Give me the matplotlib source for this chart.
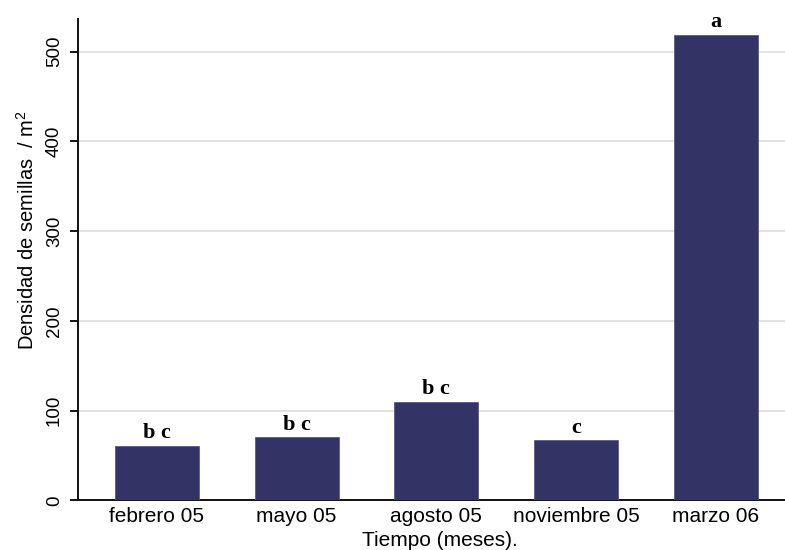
import matplotlib
matplotlib.use("Agg")
import matplotlib.pyplot as plt

# Seed density per sampling date
meses = ["febrero 05", "mayo 05", "agosto 05", "noviembre 05", "marzo 06"]
densidad = [61, 70, 110, 67, 519]
letras = ["b c", "b c", "b c", "c", "a"]
yticks = [0, 100, 200, 300, 400, 500]

plt.rcParams["font.family"] = ["Liberation Sans", "DejaVu Sans"]

fig = plt.figure(figsize=(7.85, 5.5), dpi=100)
ax = fig.add_axes([0.0997, 0.0904, 0.9003, 0.8751])

x = list(range(len(meses)))
ax.bar(x, densidad, width=0.6, color="#333366", edgecolor="#5a5a88",
       linewidth=0.6, zorder=3)

# Significance letters above each bar
for xi, v, t in zip(x, densidad, letras):
    ax.annotate(t, (xi, v), xytext=(0, 5.5), textcoords="offset points",
                ha="center", va="baseline", fontsize=16, fontweight="bold",
                family=["Liberation Serif", "DejaVu Serif"], zorder=4)

ax.set_xlim(-0.563, 4.495)
ax.set_ylim(0, 536.5)
ax.set_yticks(yticks)
ax.set_yticklabels([str(v) for v in yticks], rotation=90, va="center",
                   fontsize=13.5)
ax.set_xticks(x)
ax.set_xticklabels(meses, fontsize=15)
ax.tick_params(axis="x", length=0, pad=5)
ax.tick_params(axis="y", length=6, width=1.3, pad=5, direction="out")

ax.yaxis.grid(True, color="#e2e2e2", linewidth=1.4, zorder=0)
ax.set_axisbelow(True)

for side in ("top", "right"):
    ax.spines[side].set_visible(False)
for side in ("left", "bottom"):
    ax.spines[side].set_linewidth(1.4)
    ax.spines[side].set_color("#111111")

fig.text(27 / 785, 1 - 230 / 550, r"Densidad de semillas  / $\mathregular{m^2}$",
         rotation=90, ha="center", va="center", fontsize=14.5)
fig.text(440 / 785, 1 - 540 / 550, "Tiempo (meses).", ha="center",
         va="center", fontsize=15)

fig.savefig("out.png", dpi=100)
